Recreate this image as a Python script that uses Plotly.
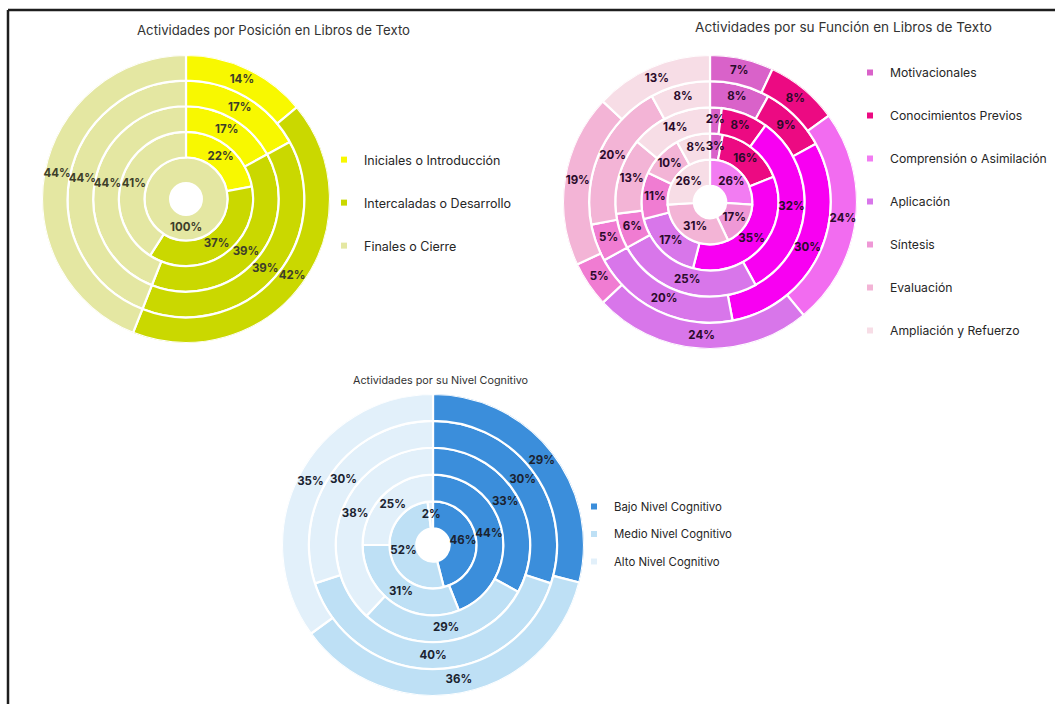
import numpy as np
import plotly.graph_objects as go

# ---------------- data (rings listed innermost -> outermost) ----------------
pos_categories = ["Iniciales o Introducción", "Intercaladas o Desarrollo", "Finales o Cierre"]
pos_iniciales = [0, 22, 17, 17, 14]
pos_intercaladas = [0, 37, 39, 39, 42]
pos_finales = [100, 41, 44, 44, 44]

fun_categories = ["Motivacionales", "Conocimientos Previos", "Comprensión o Asimilación",
                  "Aplicación", "Síntesis", "Evaluación", "Ampliación y Refuerzo"]
fun_motivacionales = [0, 3, 2, 8, 7]
fun_conocimientos = [0, 16, 8, 9, 8]
fun_comprension = [26, 35, 32, 30, 24]
fun_aplicacion = [0, 17, 25, 20, 24]
fun_sintesis = [17, 11, 6, 5, 5]
fun_evaluacion = [31, 10, 13, 20, 19]
fun_ampliacion = [26, 8, 14, 8, 13]

cog_categories = ["Bajo Nivel Cognitivo", "Medio Nivel Cognitivo", "Alto Nivel Cognitivo"]
cog_bajo = [46, 44, 33, 30, 29]
cog_medio = [52, 31, 29, 40, 36]
cog_alto = [2, 25, 38, 30, 35]

titles = ["Actividades por Posición en Libros de Texto",
          "Actividades por su Función en Libros de Texto",
          "Actividades por su Nivel Cognitivo"]

# ---------------- styles ----------------
W, H = 1055, 704
HOLE = 0.62
FONT = "Inter"

pos_colors = [["#F8F800"] * 5, ["#CAD800"] * 5, ["#E4E7A2"] * 5]
fun_colors = [
    ["#D962C9"] * 5,
    ["#EC0A82"] * 5,
    ["#F27CF2", "#F800F2", "#F800F2", "#F800F2", "#F26CF0"],
    ["#D876EA"] * 5,
    ["#EF98D6", "#F07CD2", "#F07CD2", "#F07CD2", "#F07CD2"],
    ["#F3B4D6"] * 5,
    ["#F7DDE6"] * 5,
]
cog_colors = [["#3B8EDB"] * 5, ["#BEE0F5"] * 5, ["#E2F0FA"] * 5]

fig = go.Figure()


def add_chart(polar_id, legend_id, cats, series, colors, label_color, label_size):
    n = len(series[0])
    cum = np.zeros(n)
    texts = []
    for ci, (cat, vals, cols) in enumerate(zip(cats, series, colors)):
        v = np.array(vals, dtype=float)
        theta = (cum + v / 2) * 3.6
        width = v * 3.6
        base = HOLE + np.arange(n)
        r = [1 if x > 0 else None for x in v]
        fig.add_trace(go.Barpolar(
            r=r, theta=theta, width=width, base=base,
            marker=dict(color=cols, line=dict(color="white", width=2.2)),
            subplot=polar_id, showlegend=False, name=cat,
            hovertemplate=cat + ": %{customdata}%<extra></extra>", customdata=vals))
        texts.append(go.Scatterpolar(
            r=base + 0.5, theta=theta, mode="text",
            text=[f"{int(x)}%" if x > 0 else "" for x in v],
            textfont=dict(family=FONT, size=label_size, color=label_color, weight="bold"),
            subplot=polar_id, showlegend=False, hoverinfo="skip"))
        fig.add_trace(go.Scatterpolar(
            r=[None], theta=[None], mode="markers",
            marker=dict(symbol="square", size=6, color=cols[0]),
            name=cat, legend=legend_id, legendgroup=f"{legend_id}_{ci}",
            subplot=polar_id))
        cum += v
    for t in texts:
        fig.add_trace(t)


add_chart("polar", "legend", pos_categories,
          [pos_iniciales, pos_intercaladas, pos_finales], pos_colors, "#3E3E2A", 11.5)
add_chart("polar2", "legend2", fun_categories,
          [fun_motivacionales, fun_conocimientos, fun_comprension, fun_aplicacion,
           fun_sintesis, fun_evaluacion, fun_ampliacion], fun_colors, "#2A0A2A", 11.5)
add_chart("polar3", "legend3", cog_categories,
          [cog_bajo, cog_medio, cog_alto], cog_colors, "#1B2330", 11.5)


def polar_layout(cx, cy, R):
    return dict(
        domain=dict(x=[(cx - R) / W, (cx + R) / W], y=[1 - (cy + R) / H, 1 - (cy - R) / H]),
        bgcolor="rgba(0,0,0,0)",
        barmode="overlay",
        radialaxis=dict(visible=False, range=[0, HOLE + 5]),
        angularaxis=dict(visible=False, rotation=90, direction="clockwise"),
    )


def legend_layout(x_text, y_first, gap, size):
    return dict(
        x=(x_text - 40) / W, xanchor="left",
        y=1 - (y_first - 15) / H, yanchor="top",
        bgcolor="rgba(0,0,0,0)", borderwidth=0,
        font=dict(family=FONT, size=size, color="#262626"),
        tracegroupgap=gap, itemclick=False, itemdoubleclick=False,
    )


def title_ann(text, x, y, size):
    return dict(text=text, x=x / W, y=1 - y / H, xref="paper", yref="paper",
                xanchor="center", yanchor="middle", showarrow=False,
                font=dict(family=FONT, size=size, color="#333333"))


fig.update_layout(
    width=W, height=H,
    margin=dict(l=0, r=0, t=0, b=0),
    paper_bgcolor="white", plot_bgcolor="white",
    polar=polar_layout(186, 199, 144),
    polar2=polar_layout(710, 202, 147),
    polar3=polar_layout(433, 545, 151),
    legend=legend_layout(364, 160, 23.75, 12.5),
    legend2=legend_layout(890, 73, 24, 12.2),
    legend3=legend_layout(614, 507, 8.5, 11.4),
    showlegend=True,
    annotations=[
        title_ann(titles[0], 273, 30, 13.2),
        title_ann(titles[1], 843, 27, 13.6),
        title_ann(titles[2], 440, 380, 10.8),
    ],
    shapes=[
        dict(type="line", xref="paper", yref="paper", x0=8 / W, x1=1.01, y0=1 - 10 / H, y1=1 - 10 / H,
             line=dict(color="#1E1E1E", width=2.5)),
        dict(type="line", xref="paper", yref="paper", x0=8 / W, x1=8 / W, y0=1 - 10 / H, y1=-0.01,
             line=dict(color="#1E1E1E", width=2.5)),
    ],
)

fig.write_html("out.html", config={"displayModeBar": False},
               post_script="document.body.style.margin='0';")
